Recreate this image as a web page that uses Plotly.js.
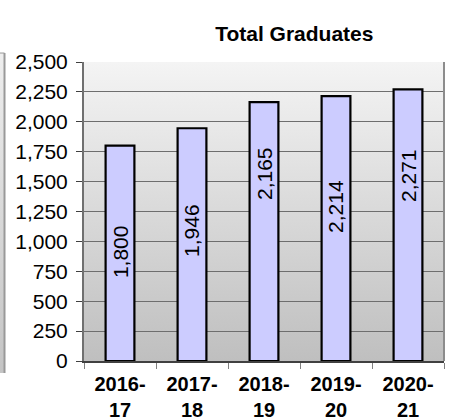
<!DOCTYPE html>
<html>
<head>
<meta charset="utf-8">
<script src="https://cdn.plot.ly/plotly-3.0.1.min.js"></script>
<style>html,body{margin:0;padding:0;background:#fff;}#chart{width:457px;height:420px;}</style>
</head>
<body>
<div id="chart"></div>
<script>
const categories = ["2016-<br>17", "2017-<br>18", "2018-<br>19", "2019-<br>20", "2020-<br>21"];
const graduates = [1800, 1946, 2165, 2214, 2271];
const valueLabels = ["1,800", "1,946", "2,165", "2,214", "2,271"];
const yTickVals = [0, 250, 500, 750, 1000, 1250, 1500, 1750, 2000, 2250, 2500];
const chartTitle = "Total Graduates";

// where along each bar (fraction of its height) the rotated label sits
const labelFrac = [0.506, 0.559, 0.722, 0.582, 0.681];

const FONT = "Liberation Sans, Arial, sans-serif";

const gradSvg = '<svg xmlns="http://www.w3.org/2000/svg" width="10" height="100" preserveAspectRatio="none">' +
  '<defs><linearGradient id="g" x1="0" y1="0" x2="0" y2="1">' +
  '<stop offset="0" stop-color="#f4f4f4"/><stop offset="1" stop-color="#bfbfbf"/></linearGradient></defs>' +
  '<rect width="10" height="100" fill="url(#g)"/></svg>';
const gradSrc = 'data:image/svg+xml;base64,' + btoa(gradSvg);

const sideSvg = '<svg xmlns="http://www.w3.org/2000/svg" width="10" height="100" preserveAspectRatio="none">' +
  '<defs><linearGradient id="h" x1="0" y1="0" x2="0" y2="1">' +
  '<stop offset="0" stop-color="#eeeeee"/><stop offset="1" stop-color="#c4c4c4"/></linearGradient></defs>' +
  '<rect width="10" height="100" fill="url(#h)"/></svg>';
const sideSrc = 'data:image/svg+xml;base64,' + btoa(sideSvg);

const trace = {
  type: 'bar',
  x: categories,
  y: graduates,
  marker: {color: '#ccccff', line: {color: '#000000', width: 2.2}},
  hoverinfo: 'none'
};

const annotations = categories.map((c, i) => ({
  x: c, y: graduates[i] * labelFrac[i], xref: 'x', yref: 'y',
  text: valueLabels[i], textangle: -90, showarrow: false,
  font: {family: FONT, size: 21, color: '#000'},
  xanchor: 'center', yanchor: 'middle'
}));

const layout = {
  width: 457, height: 420,
  margin: {l: 84, r: 13, t: 62, b: 59, pad: 0},
  paper_bgcolor: '#ffffff',
  plot_bgcolor: '#ffffff',
  font: {family: FONT, size: 21, color: '#000'},
  showlegend: false,
  bargap: 0.6,
  title: {
    text: '<b>' + chartTitle + '</b>',
    font: {family: FONT, size: 21, color: '#000'},
    xref: 'container', yref: 'container',
    x: 0.644, xanchor: 'center', y: 0.919, yanchor: 'middle'
  },
  xaxis: {
    type: 'category',
    tickfont: {family: FONT, size: 20, color: '#000', weight: 'bold'},
    ticks: 'outside', ticklen: 6, tickcolor: '#808080', tickwidth: 1,
    tickson: 'boundaries',
    showline: true, linecolor: '#404040', linewidth: 2,
    showgrid: false, zeroline: false,
    ticklabelstandoff: 4,
    fixedrange: true
  },
  yaxis: {
    range: [0, 2500],
    tickvals: yTickVals,
    tickformat: ',',
    tickfont: {family: FONT, size: 21, color: '#000'},
    ticks: 'outside', ticklen: 6, tickcolor: '#404040', tickwidth: 1,
    showline: true, linecolor: '#707070', linewidth: 2,
    showgrid: true, gridcolor: '#6e6e6e', gridwidth: 1,
    zeroline: false,
    ticklabelstandoff: 4,
    fixedrange: true
  },
  images: [
    {source: gradSrc, xref: 'paper', yref: 'paper', x: 0, y: 1, sizex: 1, sizey: 1,
     xanchor: 'left', yanchor: 'top', sizing: 'stretch', layer: 'below'},
    {source: sideSrc, xref: 'paper', yref: 'paper', x: -0.2333, y: 1.030, sizex: 0.0139, sizey: 1.070,
     xanchor: 'left', yanchor: 'top', sizing: 'stretch', layer: 'below'}
  ],
  shapes: [
    {type: 'line', xref: 'paper', yref: 'paper', x0: 1, x1: 1, y0: 0, y1: 1,
     line: {color: '#8c8c8c', width: 2}},
    {type: 'line', xref: 'paper', yref: 'paper', x0: -0.2208, x1: -0.2208, y0: -0.040, y1: 1.030,
     line: {color: '#999999', width: 2}},
    {type: 'line', xref: 'paper', yref: 'paper', x0: -0.2333, x1: -0.2208, y0: 1.030, y1: 1.030,
     line: {color: '#999999', width: 1}}
  ],
  annotations: annotations
};

Plotly.newPlot('chart', [trace], layout, {displayModeBar: false, staticPlot: true});
</script>
</body>
</html>
